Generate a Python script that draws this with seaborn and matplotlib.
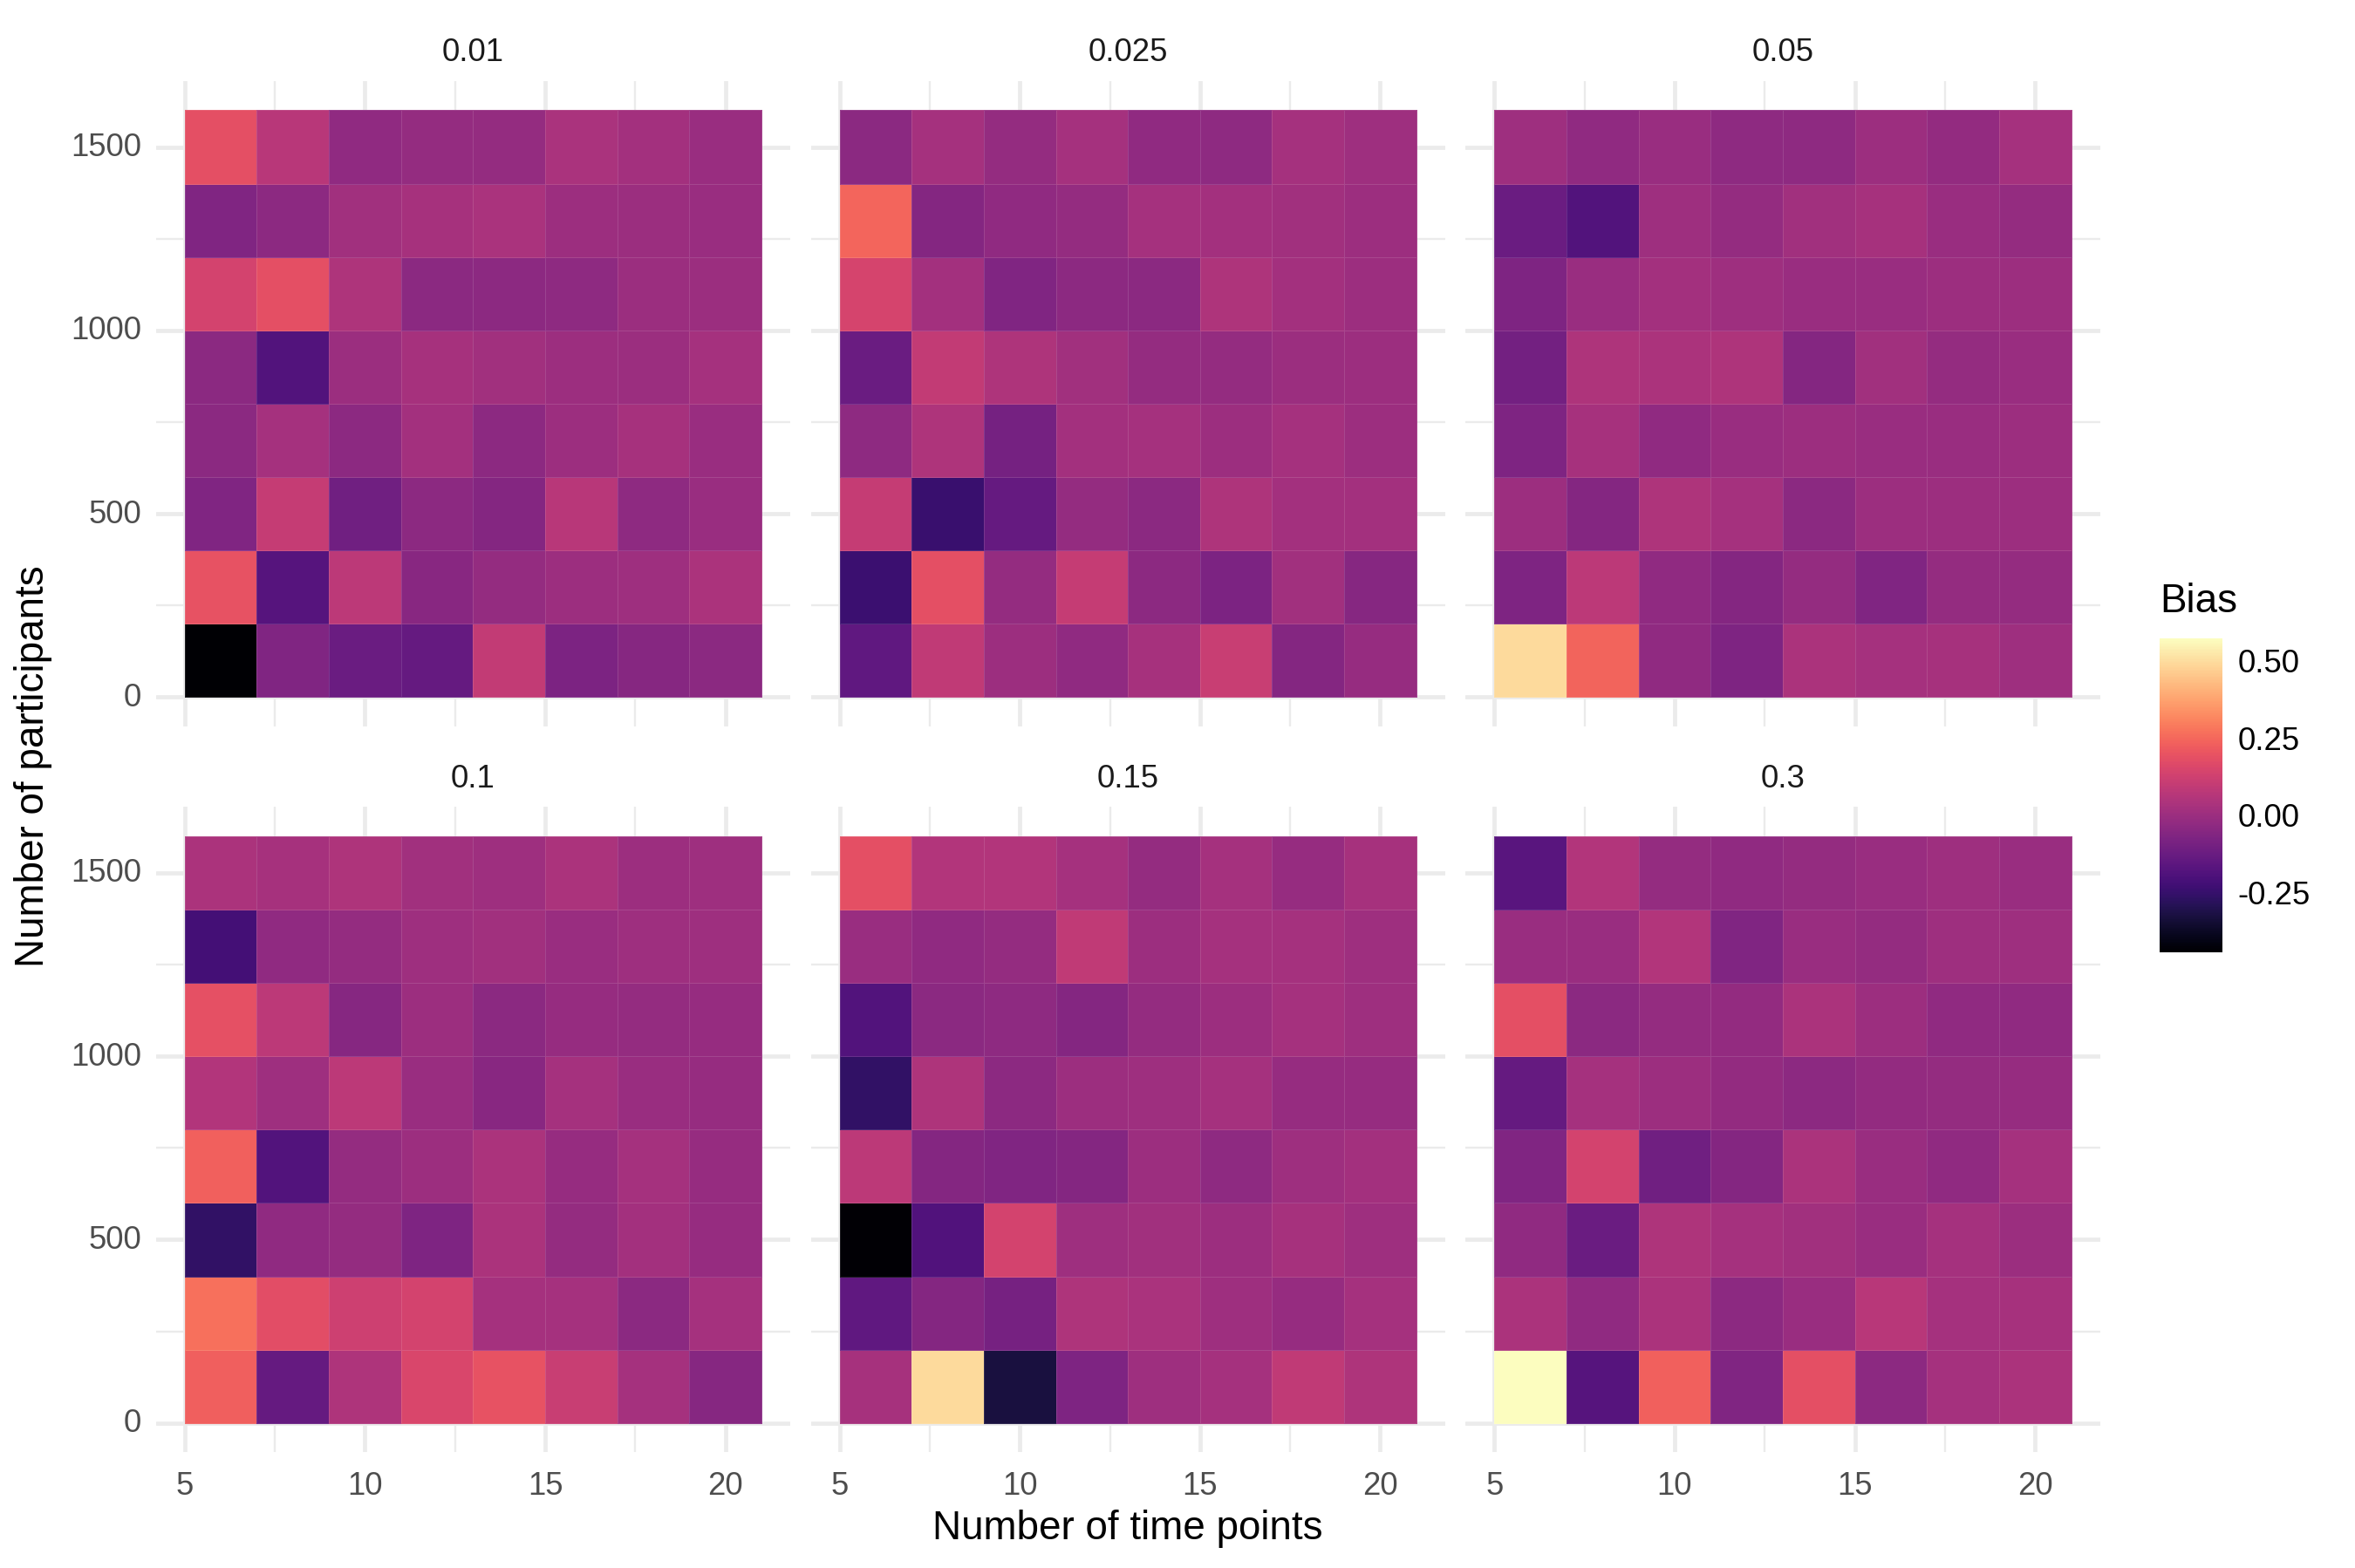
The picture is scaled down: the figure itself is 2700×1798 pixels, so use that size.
import numpy as np
import pandas as pd
import matplotlib
matplotlib.use("Agg")
import matplotlib.pyplot as plt
import seaborn as sns
from matplotlib.ticker import FixedLocator

# ---------------- data ----------------
time_points = [6, 8, 10, 12, 14, 16, 18, 20]
participants = [1500, 1300, 1100, 900, 700, 500, 300, 100]  # rows listed top -> bottom
facet_labels = ["0.01", "0.025", "0.05", "0.1", "0.15", "0.3"]

bias_001 = [
    [0.18, 0.065, -0.03, -0.02, -0.02, 0.03, 0.015, -0.01],
    [-0.07, -0.04, 0.01, 0.025, 0.03, 0.0, -0.005, -0.01],
    [0.135, 0.18, 0.045, -0.045, -0.04, -0.035, -0.005, -0.005],
    [-0.045, -0.185, -0.005, 0.025, 0.01, 0.0, -0.005, 0.02],
    [-0.045, 0.02, -0.04, 0.015, -0.04, 0.0, 0.025, -0.01],
    [-0.07, 0.10, -0.11, -0.04, -0.06, 0.065, -0.035, -0.01],
    [0.19, -0.18, 0.075, -0.05, -0.02, 0.0, 0.005, 0.035],
    [-0.445, -0.07, -0.125, -0.14, 0.09, -0.08, -0.055, -0.045],
]
bias_0025 = [
    [-0.045, 0.02, -0.02, 0.02, -0.03, -0.035, 0.02, 0.005],
    [0.24, -0.06, -0.03, -0.02, 0.02, 0.015, 0.01, 0.0],
    [0.14, 0.015, -0.07, -0.04, -0.045, 0.045, 0.015, 0.0],
    [-0.125, 0.09, 0.045, 0.01, -0.02, -0.02, -0.005, 0.0],
    [-0.035, 0.045, -0.10, 0.015, 0.02, 0.0, 0.02, 0.0],
    [0.10, -0.245, -0.14, -0.02, -0.045, 0.045, 0.015, 0.015],
    [-0.24, 0.18, -0.02, 0.10, -0.04, -0.08, 0.01, -0.055],
    [-0.15, 0.085, 0.0, -0.03, 0.025, 0.105, -0.06, -0.015],
]
bias_005 = [
    [0.005, -0.03, -0.01, -0.035, -0.035, 0.0, -0.025, 0.02],
    [-0.125, -0.185, 0.005, -0.02, 0.01, 0.025, -0.01, -0.02],
    [-0.075, -0.01, 0.015, 0.005, -0.01, -0.01, 0.0, 0.0],
    [-0.105, 0.045, 0.035, 0.045, -0.06, 0.01, -0.02, -0.01],
    [-0.075, 0.025, -0.03, -0.01, 0.0, -0.01, -0.01, 0.0],
    [0.0, -0.06, 0.045, 0.02, -0.045, 0.0, 0.0, 0.0],
    [-0.075, 0.075, -0.03, -0.06, -0.02, -0.07, -0.02, -0.02],
    [0.49, 0.235, -0.03, -0.075, 0.035, 0.02, 0.025, 0.005],
]
bias_01 = [
    [0.035, 0.025, 0.045, 0.01, 0.005, 0.035, 0.0, 0.005],
    [-0.22, -0.03, -0.02, 0.005, 0.01, -0.01, 0.005, 0.005],
    [0.185, 0.075, -0.055, 0.0, -0.045, -0.015, -0.02, -0.015],
    [0.05, 0.005, 0.075, -0.01, -0.05, 0.02, -0.01, -0.015],
    [0.23, -0.185, -0.02, 0.0, 0.035, -0.015, 0.02, -0.015],
    [-0.265, -0.03, -0.02, -0.075, 0.035, -0.02, 0.015, -0.015],
    [0.265, 0.175, 0.12, 0.135, 0.02, 0.02, -0.045, 0.02],
    [0.225, -0.14, 0.045, 0.15, 0.19, 0.105, 0.02, -0.055],
]
bias_015 = [
    [0.18, 0.05, 0.05, 0.02, -0.02, 0.02, -0.015, 0.025],
    [-0.01, -0.03, -0.02, 0.085, 0.0, 0.02, 0.02, 0.005],
    [-0.185, -0.045, -0.035, -0.06, -0.02, 0.0, 0.02, 0.005],
    [-0.265, 0.045, -0.04, 0.0, 0.005, 0.02, -0.015, -0.015],
    [0.075, -0.06, -0.07, -0.06, 0.0, -0.035, 0.005, 0.015],
    [-0.44, -0.19, 0.135, 0.005, 0.01, 0.0, 0.025, 0.005],
    [-0.15, -0.06, -0.095, 0.045, 0.03, 0.005, -0.015, 0.02],
    [0.025, 0.49, -0.33, -0.075, 0.005, 0.02, 0.085, 0.045],
]
bias_03 = [
    [-0.17, 0.05, -0.02, -0.03, -0.02, -0.01, 0.005, -0.01],
    [-0.01, -0.01, 0.05, -0.07, -0.01, -0.02, 0.005, 0.005],
    [0.18, -0.045, -0.02, -0.025, 0.035, 0.0, -0.03, -0.03],
    [-0.14, 0.02, 0.0, -0.025, -0.04, -0.025, -0.02, -0.015],
    [-0.07, 0.135, -0.11, -0.06, 0.035, -0.01, -0.03, 0.02],
    [-0.03, -0.125, 0.045, 0.02, 0.01, -0.01, 0.02, -0.005],
    [0.035, -0.03, 0.035, -0.04, -0.01, 0.065, 0.02, 0.025],
    [0.567, -0.18, 0.23, -0.07, 0.18, -0.04, 0.02, 0.035],
]
panels = [bias_001, bias_0025, bias_005, bias_01, bias_015, bias_03]

x_major = [5, 10, 15, 20]
x_minor = [7.5, 12.5, 17.5]
y_major = [0, 500, 1000, 1500]
y_minor = [250, 750, 1250]
cbar_ticks = [-0.25, 0.0, 0.25, 0.5]
cbar_ticklabels = ["-0.25", "0.00", "0.25", "0.50"]

# ---------------- style ----------------
sns.set_style("white")
plt.rcParams["font.family"] = ["Liberation Sans", "DejaVu Sans"]

TICK_FS = 14.6
TITLE_FS = 18.3

W, H = 1568.0, 1045.0
fig = plt.figure(figsize=(15, 1799 / 180), dpi=180)

x_step = time_points[1] - time_points[0]
y_step = participants[0] - participants[1]
x0 = min(time_points) - x_step / 2
y0 = min(participants) - y_step / 2
nx, ny = len(time_points), len(participants)

def xi(v):
    return (v - x0) / x_step

def yi(v):
    return (v - y0) / y_step

all_vals = np.concatenate([np.ravel(p) for p in panels])
vmin, vmax = all_vals.min(), all_vals.max()

lefts = [103.8 / W, 539.8 / W, 975.8 / W]
pw = 422.4 / W
bottoms = [1 - 484.5 / H, 1 - 968.0 / H]
ph = 430.0 / H

cax = fig.add_axes([1438 / W, 1 - 635 / H, 42 / W, 209 / H])

grid_c = "#EBEBEB"
axes = []
for k, vals in enumerate(panels):
    r, c = divmod(k, 3)
    ax = fig.add_axes([lefts[c], bottoms[r], pw, ph])
    df = pd.DataFrame(vals, index=participants, columns=time_points).sort_index()
    sns.heatmap(
        df, ax=ax, cmap="magma", vmin=vmin, vmax=vmax,
        cbar=(k == 0), cbar_ax=cax if k == 0 else None,
        cbar_kws={"ticks": cbar_ticks} if k == 0 else None,
        linewidths=0.35, linecolor=(1, 1, 1, 0.12),
    )
    ex = 0.05 * nx
    ey = 0.05 * ny
    ax.set_xlim(-ex, nx + ex)
    ax.set_ylim(-ey, ny + ey)
    ax.set_xticks([xi(v) for v in x_major])
    ax.set_xticklabels([str(v) for v in x_major], rotation=0)
    ax.set_yticks([yi(v) for v in y_major])
    ax.set_yticklabels([str(v) for v in y_major], rotation=0)
    ax.xaxis.set_minor_locator(FixedLocator([xi(v) for v in x_minor]))
    ax.yaxis.set_minor_locator(FixedLocator([yi(v) for v in y_minor]))
    ax.set_axisbelow(True)
    ax.grid(True, which="major", color=grid_c, linewidth=1.9)
    ax.grid(True, which="minor", color=grid_c, linewidth=0.95)
    for s in ax.spines.values():
        s.set_visible(False)
    ax.set_xlabel("")
    ax.set_ylabel("")
    ax.tick_params(which="both", length=0, labelsize=TICK_FS, labelcolor="#4D4D4D")
    ax.tick_params(axis="x", pad=8.3)
    ax.tick_params(axis="y", pad=6.75)
    ax.tick_params(labelbottom=(r == 1), labelleft=(c == 0))
    ax.set_facecolor("none")
    axes.append(ax)
    fig.text(lefts[c] + pw / 2, [1 - 35 / H, 1 - 519 / H][r], facet_labels[k],
             ha="center", va="center", fontsize=TICK_FS, color="#1A1A1A")

# colorbar styling
cbar = axes[0].collections[0].colorbar
cbar.outline.set_visible(False)
cbar.set_ticks(cbar_ticks)
cbar.set_ticklabels(cbar_ticklabels)
cax.minorticks_off()
cax.yaxis.set_ticks_position("both")
cax.tick_params(which="major", direction="in", length=5.6, width=0.8, colors="white",
                left=True, right=True, labelleft=False, labelright=True, pad=6.9)
cax.tick_params(labelcolor="black", labelsize=TICK_FS)

fig.text(1438 / W, 1 - 401 / H, "Bias", ha="left", va="center", fontsize=TITLE_FS, color="black")
fig.text((lefts[1] + pw / 2), 1 - 1018.5 / H, "Number of time points", ha="center", va="center",
         fontsize=TITLE_FS, color="black")
fig.text(22 / W, 1 - 510.5 / H, "Number of participants", ha="center", va="center",
         rotation=90, fontsize=TITLE_FS, color="black")

fig.savefig("out.png", dpi=180, facecolor="white")
